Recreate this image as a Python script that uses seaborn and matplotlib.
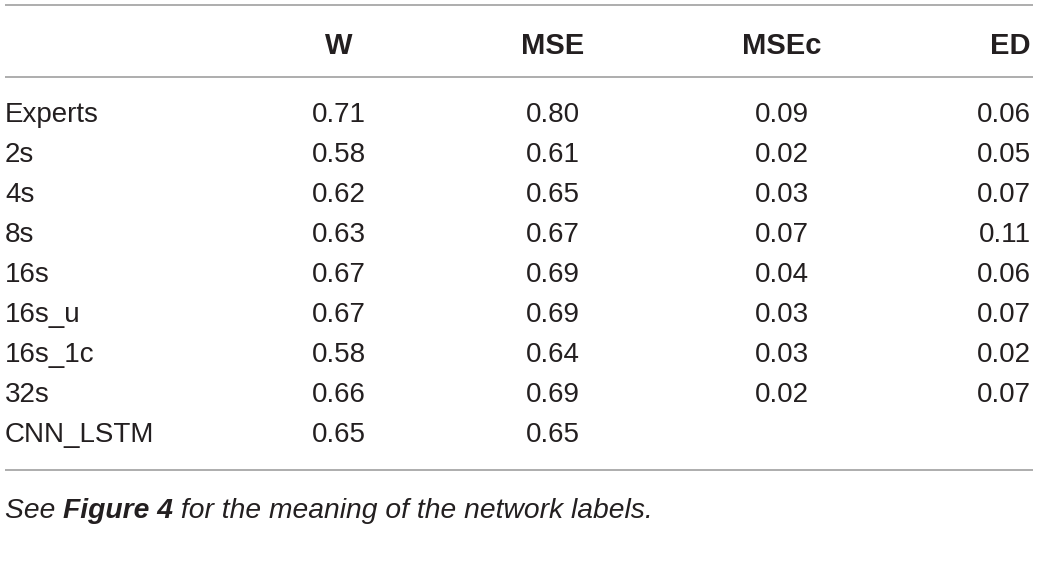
import matplotlib
matplotlib.use("Agg")
import matplotlib.pyplot as plt
import seaborn as sns

# table contents
models = ["Experts", "2s", "4s", "8s", "16s", "16s_u", "16s_1c", "32s", "CNN_LSTM"]
w_vals = [0.71, 0.58, 0.62, 0.63, 0.67, 0.67, 0.58, 0.66, 0.65]
mse_vals = [0.80, 0.61, 0.65, 0.67, 0.69, 0.69, 0.64, 0.69, 0.65]
msec_vals = [0.09, 0.02, 0.03, 0.07, 0.04, 0.03, 0.03, 0.02, None]
ed_vals = [0.06, 0.05, 0.07, 0.11, 0.06, 0.07, 0.02, 0.07, None]
headers = ["W", "MSE", "MSEc", "ED"]

sns.set_theme(style="white")
plt.rcParams["font.family"] = ["Liberation Sans", "DejaVu Sans"]

txt = "#231f20"
rule = "#a0a0a0"
fs = 20

fig = plt.figure(figsize=(10.39, 5.75), dpi=100)
ax = fig.add_axes([0, 0, 1, 1])
ax.set_xlim(0, 1039)
ax.set_ylim(575, 0)
ax.axis("off")

# column anchors (x, alignment)
cols = [(339, "center"), (553, "center"), (782, "center"), (1031, "right")]

for (x, ha), h in zip(cols, headers):
    ax.text(x, 54, h, ha=ha, va="baseline", fontsize=21, fontweight="bold", color=txt)

row0, step = 122, 40
for i, name in enumerate(models):
    y = row0 + i * step
    ax.text(5, y, name, ha="left", va="baseline", fontsize=fs, color=txt)
    for (x, ha), series in zip(cols, [w_vals, mse_vals, msec_vals, ed_vals]):
        v = series[i]
        if v is not None:
            ax.text(x, y, f"{v:.2f}", ha=ha, va="baseline", fontsize=fs, color=txt)

for y in (5, 77, 470):
    ax.plot([5, 1033], [y, y], color=rule, lw=1.2, solid_capstyle="butt")

# footnote with bold figure reference
fy = 518
ffs = 20.3
t1 = ax.text(5, fy, "See ", ha="left", va="baseline", fontsize=ffs, style="italic", color=txt)
fig.canvas.draw()
r = fig.canvas.get_renderer()
inv = ax.transData.inverted()
x1 = inv.transform(t1.get_window_extent(r).get_points())[1][0]
t2 = ax.text(x1, fy, "Figure 4", ha="left", va="baseline", fontsize=ffs, style="italic",
             fontweight="bold", color=txt)
fig.canvas.draw()
x2 = inv.transform(t2.get_window_extent(r).get_points())[1][0]
ax.text(x2, fy, " for the meaning of the network labels.", ha="left", va="baseline",
        fontsize=ffs, style="italic", color=txt)

fig.savefig("out.png", dpi=100)
